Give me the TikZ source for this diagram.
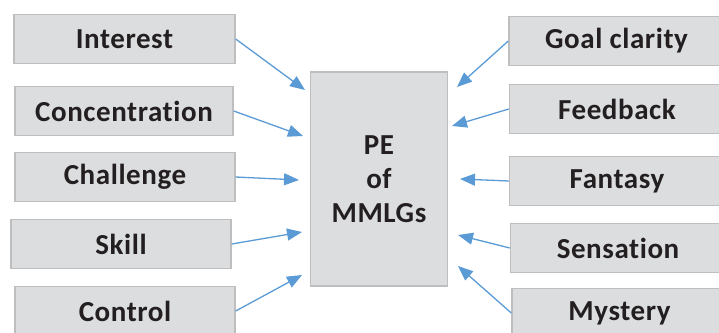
\documentclass[tikz,border=0pt]{standalone}
\usepackage{fontspec}
\setmainfont{Carlito}[Ligatures=NoCommon,LetterSpace=2]
\usetikzlibrary{arrows.meta}
\definecolor{boxgray}{HTML}{DCDDDF}
\definecolor{edgegray}{HTML}{BEBEBE}
\definecolor{arrowblue}{HTML}{5B9BD5}
\definecolor{txtblack}{HTML}{231F20}
\tikzset{
  factor/.style={draw=edgegray,line width=1.4pt,fill=boxgray,minimum height=49pt,
    inner sep=0pt,text=txtblack,font=\fontsize{29}{34}\selectfont\bfseries},
  link/.style={arrowblue,line width=1.3pt,-{Triangle[length=15pt,width=12pt]}}
}
\begin{document}
\begin{tikzpicture}[x=1pt,y=-1pt]
    \clip (0,0) rectangle (719,332);
    % centre box
    \node[factor,minimum width=137pt,minimum height=214pt,align=center] (pe) at (379,179) {PE\\of\\MMLGs};
    % left side
    \foreach \nm/\txt/\x/\y/\w in {interest/Interest/124.5/39/221,concentration/Concentration/124/111/218,
        challenge/Challenge/125/177/220,skill/Skill/121/244/220,control/Control/125/311/220}
      \node[factor,minimum width=\w pt] (\nm) at (\x,\y) {\txt};
    % right side
    \foreach \nm/\txt/\x/\y in {goal/Goal clarity/616.5/41,feedback/Feedback/617/109,
        fantasy/Fantasy/617/181,sensation/Sensation/618/248,mystery/Mystery/619.5/313}
      \node[factor,minimum width=215pt] (\nm) at (\x,\y) {\txt};
    % arrow tips
    \coordinate (tinterest) at (305,90);
    \coordinate (tconcentration) at (303,136);
    \coordinate (tchallenge) at (299,180);
    \coordinate (tskill) at (302,232);
    \coordinate (tcontrol) at (302,275);
    \coordinate (tgoal) at (457,87);
    \coordinate (tfeedback) at (452,126);
    \coordinate (tfantasy) at (460,179);
    \coordinate (tsensation) at (458,235);
    \coordinate (tmystery) at (458,266);
    \foreach \nm in {interest,concentration,challenge,skill,control}
      \draw[link] (\nm.east) -- (t\nm);
    \foreach \nm in {goal,feedback,fantasy,sensation,mystery}
      \draw[link] (\nm.west) -- (t\nm);
\end{tikzpicture}
\end{document}
